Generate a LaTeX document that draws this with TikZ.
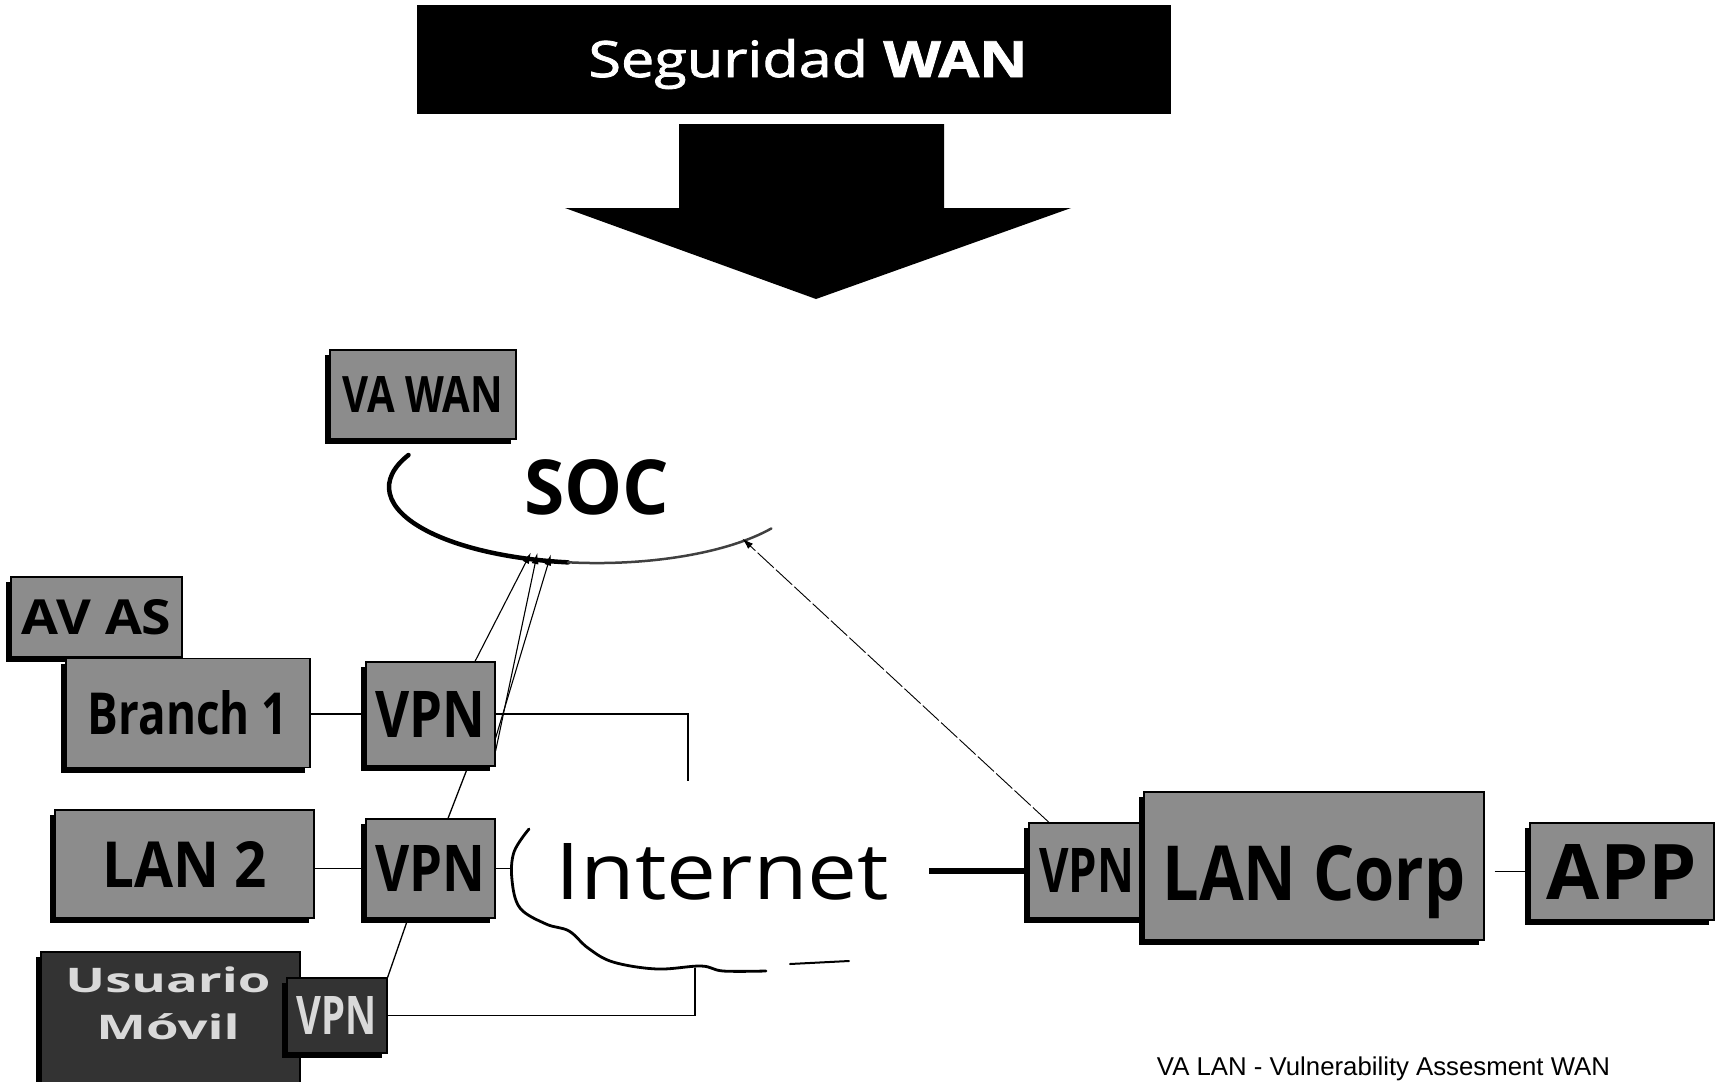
\documentclass[tikz,border=0pt]{standalone}
\usepackage{fontspec}
\setmainfont{Open Sans}
\newfontfamily\semib[FakeBold=1.5]{Open Sans}
\newfontfamily\footfont{Liberation Sans}
\usepackage{graphicx}
\usetikzlibrary{arrows.meta,shadows,shapes.geometric}

% scale a bold label to a given width and height (in pt)
\newcommand\fitlabel[3]{\resizebox{#1pt}{#2pt}{\bfseries #3}}

\begin{document}
\begin{tikzpicture}[x=1pt,y=-1pt,
  tag/.style={rectangle, draw=black, line width=1.2pt, fill=black!45, inner sep=0pt,
    drop shadow={shadow xshift=-5pt, shadow yshift=-5pt, opacity=1, fill=black}},
  darktag/.style={tag, fill=black!80, text=black!15},
  wire/.style={line width=1.3pt},
  feed/.style={line width=1.1pt, -{Latex[length=11pt,width=7pt]}, shorten >=-7pt},
  probe/.style={line width=0.9pt, dash pattern=on 22pt off 3pt, -{Latex[length=11pt,width=7pt]}, shorten >=-3pt},
  outline/.style={line width=3pt, line cap=round, line join=round}]

\fill[white] (0,0) rectangle (1717,1082);
\useasboundingbox (0,0) rectangle (1717,1082);

% heading banner and big arrow
\node[rectangle, fill=black, minimum width=754pt, minimum height=109pt, inner sep=0pt] (title) at (794,59.5) {};
\node[anchor=base, text=white, inner sep=0pt] (titletext) at (808,77)
  {\resizebox{439pt}{38pt}{\semib Seguridad \bfseries WAN}};
\fill[black] (679,124) -- (944,124) -- (944,208) -- (1071,208) -- (816,299)
  -- (565,208) -- (679,208) -- cycle;

% SOC cloud
\node[ellipse, minimum width=416pt, minimum height=152pt, inner sep=0pt] (soc) at (597,487)
  {\fitlabel{145}{55}{SOC}};
\draw[outline, line width=4.5pt] (408.5,455) arc[start angle=-155, end angle=-262, x radius=208, y radius=76];
\draw[outline, line width=2.5pt, black!75] (568,562.3) arc[start angle=-262, end angle=-327, x radius=208, y radius=76];

\node[tag, minimum width=186pt, minimum height=89pt] (vawan) at (423,394.5) {\fitlabel{160}{36}{VA WAN}};

% branch side
\node[tag, minimum width=171pt, minimum height=80pt] (avas) at (96.5,617) {\fitlabel{150}{35}{AV AS}};
\node[tag, minimum width=244pt, minimum height=109pt] (branch) at (188,713) {\fitlabel{200}{44}{Branch 1}};
\node[tag, minimum width=129pt, minimum height=104pt] (vpn1) at (430.5,714) {\fitlabel{110}{46}{VPN}};
\node[tag, minimum width=259pt, minimum height=108pt] (lan2) at (184.5,864) {\fitlabel{164}{46}{LAN 2}};
\node[tag, minimum width=129pt, minimum height=99pt] (vpn2) at (430.5,868.5) {\fitlabel{110}{46}{VPN}};
\node[darktag, minimum width=259pt, minimum height=140pt] (usu) at (170.5,1022) {};
\node[inner sep=0pt, text=black!15] (usutext) at (168,1008)
  {\resizebox*{205pt}{88pt}{\bfseries\begin{tabular}{@{}c@{}}Usuario\\[2pt]Móvil\end{tabular}}};
\node[darktag, minimum width=100pt, minimum height=75pt] (vpn3) at (337,1015.5) {\fitlabel{80}{38}{VPN}};

% corporate side
\node[tag, minimum width=115pt, minimum height=95pt] (vpnr) at (1086.5,870.5) {\fitlabel{95}{44}{VPN}};
\node[tag, minimum width=340pt, minimum height=148pt, text height=69pt, text depth=0pt] (lancorp) at (1314,866)
  {\fitlabel{303}{55}{LAN Corp}};
\node[tag, minimum width=184pt, minimum height=97pt] (app) at (1622,871.5) {\fitlabel{150}{55}{APP}};

% Internet cloud
\node[inner sep=0pt] (inet) at (722.5,872) {\resizebox{333pt}{56pt}{Internet}};
\draw[outline, line width=2.8pt] plot[smooth, tension=0.6] coordinates
  {(529,829) (514,852) (512,880) (520,908) (546,924) (569,931) (588,948) (613,962)
   (657,969) (701,966) (723,971) (766,971)};
\draw[outline, line width=2pt] (790,964) -- (849,961);
\coordinate (inet-n) at (688,781);
\coordinate (inet-w) at (512,868.5);
\coordinate (inet-s) at (695,968);
\coordinate (inet-e) at (929,870.5);

% links
\draw[wire] (vpn1.west) -- (vpn1.west -| branch.east);
\draw[wire] (vpn2.west) -- (vpn2.west -| lan2.east);
\draw[wire] (vpn1.east) -| (inet-n);
\draw[wire] (vpn2.east) -- (inet-w);
\draw[wire] (vpn3.east) -| (inet-s);
\draw[wire] ([xshift=37.5pt]vpn1.south) -- ([xshift=17.5pt]vpn2.north);
\draw[wire] ([xshift=-22.5pt]vpn2.south) -- (vpn3.north east);
\draw[line width=6pt] (inet-e) -- (vpnr.west);
\draw[wire, shorten <=10pt] (lancorp.east |- app.west) -- (app.west);

% monitoring feeds into the SOC
\draw[feed] ([xshift=44.5pt]vpn1.north) -- (soc.226);
\draw[feed] ([yshift=-37pt]vpn1.east) -- (soc.230);
\draw[feed] ([yshift=-24pt]vpn1.east) -- (soc.237);
\draw[probe] ([xshift=-37.5pt]vpnr.north) -- (soc.-20);

% footnote
\node[anchor=base, inner sep=0pt] (note) at (1383.5,1075)
  {\resizebox{453pt}{!}{\footfont VA LAN - Vulnerability Assesment WAN}};
\end{tikzpicture}
\end{document}
